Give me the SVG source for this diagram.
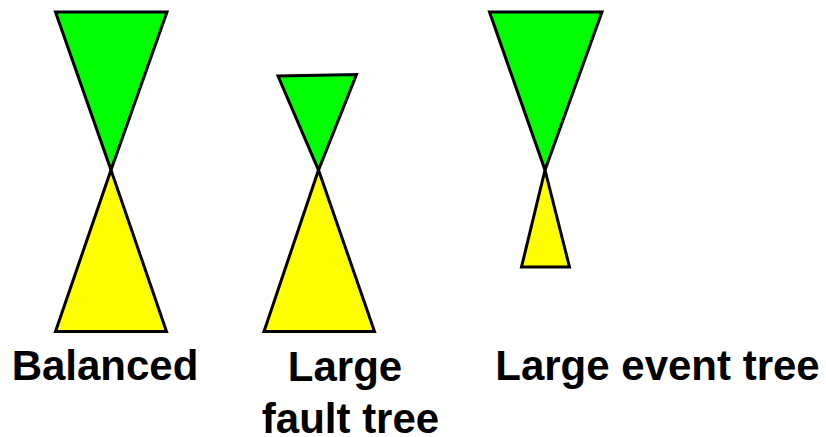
<svg xmlns="http://www.w3.org/2000/svg" width="826" height="437" viewBox="0 0 826 437">
<style>
.g{fill:#00ff00;stroke:#000;stroke-width:3;stroke-linejoin:miter}
.y{fill:#ffff00;stroke:#000;stroke-width:3;stroke-linejoin:miter}
.t{font-family:"Liberation Sans",Arial,sans-serif;font-weight:bold;font-size:42px;fill:#000;text-anchor:middle}
</style>
<rect width="826" height="437" fill="#fff"/>
<g id="balanced">
<polygon class="y" points="111,170 55.5,331.5 166.5,331.5"/>
<polygon class="g" points="55.5,12 167,12 111,170"/>
<text class="t" x="105" y="380">Balanced</text>
</g>
<g id="large-fault-tree">
<polygon class="y" points="318.5,170 264,331.5 374.5,331.5"/>
<polygon class="g" points="278,76 356.5,74.5 318.5,170"/>
<text class="t" x="345" y="381">Large</text>
<text class="t" x="350.5" y="433">fault tree</text>
</g>
<g id="large-event-tree">
<polygon class="y" points="545,170 521.5,267 569.5,267"/>
<polygon class="g" points="489.5,12 602,12 545,170"/>
<text class="t" x="657.5" y="380">Large event tree</text>
</g>
</svg>
